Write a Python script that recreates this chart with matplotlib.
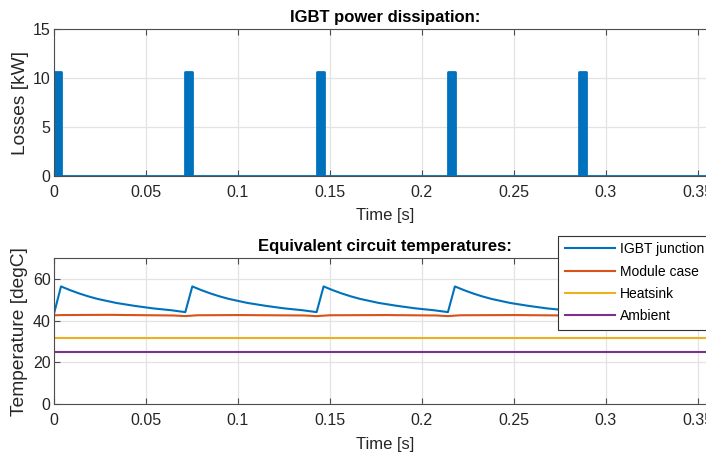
import numpy as np
import matplotlib.pyplot as plt

plt.rcParams['font.family'] = ['Liberation Sans', 'DejaVu Sans']

# pulse timing (s) and IGBT loss level (kW)
pulse_start = [0.0, 0.0714, 0.1428, 0.2142, 0.2856]
pulse_end = [0.0038, 0.0752, 0.1466, 0.2180, 0.2894]
loss_kw = 10.6
t_stop = 0.36

# junction temperature (s, degC)
tj_time = [0.0, 0.0038, 0.0088, 0.0138, 0.0188, 0.0238, 0.0338, 0.0438, 0.0538, 0.0638, 0.0714,
           0.0752, 0.0802, 0.0852, 0.0902, 0.0952, 0.1052, 0.1152, 0.1252, 0.1352, 0.1428,
           0.1466, 0.1516, 0.1566, 0.1616, 0.1666, 0.1766, 0.1866, 0.1966, 0.2066, 0.2142,
           0.2180, 0.2230, 0.2280, 0.2330, 0.2380, 0.2480, 0.2580, 0.2680, 0.2780, 0.2856,
           0.2894, 0.2944, 0.2994, 0.3044, 0.3094, 0.3194, 0.3294, 0.3394, 0.3494, 0.3600]
tj_vals = [43.4, 56.4, 54.6, 53.0, 51.6, 50.4, 48.5, 47.1, 45.9, 45.0, 44.1,
           56.4, 54.6, 53.0, 51.6, 50.4, 48.5, 47.1, 45.9, 45.0, 44.1,
           56.4, 54.6, 53.0, 51.6, 50.4, 48.5, 47.1, 45.9, 45.0, 44.1,
           56.4, 54.6, 53.0, 51.6, 50.4, 48.5, 47.1, 45.9, 45.0, 44.1,
           56.4, 54.6, 53.0, 51.6, 50.4, 48.5, 47.1, 45.9, 45.0, 44.1]

# module case temperature, small dip around each pulse
tc_time = [0.0, 0.0050, 0.0300, 0.0650, 0.0714, 0.0780, 0.1000, 0.1360, 0.1428, 0.1500,
           0.1800, 0.2080, 0.2142, 0.2210, 0.2500, 0.2790, 0.2856, 0.2930, 0.3600]
tc_vals = [42.6, 42.7, 42.8, 42.5, 42.2, 42.6, 42.7, 42.5, 42.2, 42.6,
           42.7, 42.5, 42.2, 42.6, 42.7, 42.5, 42.2, 42.6, 42.7]

t_heatsink = 31.9
t_ambient = 25.0

blue, orange, yellow, purple = '#0072BD', '#D95319', '#EDB120', '#7E2F8E'
grid_c = '#e3e3e3'
axis_c = '#4d4d4d'
text_c = '#262626'

fig = plt.figure(figsize=(7.06, 4.54), dpi=100)
ax1 = fig.add_axes([0.0765, 0.6123, 0.9377, 0.3238])
ax2 = fig.add_axes([0.0765, 0.1095, 0.9377, 0.3222])

# power step signal
p_t = [0.0]
p_v = [0.0]
for s, e in zip(pulse_start, pulse_end):
    p_t += [s, s, e, e]
    p_v += [0.0, loss_kw, loss_kw, 0.0]
p_t.append(t_stop)
p_v.append(0.0)
ax1.fill_between(p_t, p_v, 0, color=blue, lw=0)
ax1.plot(p_t, p_v, color=blue, lw=2)

ax2.plot(tj_time, tj_vals, color=blue, lw=1.5, label='IGBT junction')
ax2.plot(tc_time, tc_vals, color=orange, lw=1.5, label='Module case')
ax2.plot([0, t_stop], [t_heatsink, t_heatsink], color=yellow, lw=1.5, label='Heatsink')
ax2.plot([0, t_stop], [t_ambient, t_ambient], color=purple, lw=1.5, label='Ambient')

for ax, title, ylab in [(ax1, 'IGBT power dissipation:', 'Losses [kW]'),
                        (ax2, 'Equivalent circuit temperatures:', 'Temperature [degC]')]:
    ax.set_xlim(0, t_stop)
    ax.set_xticks([0, 0.05, 0.1, 0.15, 0.2, 0.25, 0.3, 0.35])
    ax.set_xticklabels(['0', '0.05', '0.1', '0.15', '0.2', '0.25', '0.3', '0.35'])
    ax.grid(True, color=grid_c, lw=0.9)
    ax.set_axisbelow(True)
    for sp in ax.spines.values():
        sp.set_color(axis_c)
        sp.set_linewidth(0.8)
    ax.tick_params(direction='in', top=True, right=True, length=4, width=0.8,
                   color=axis_c, labelcolor=text_c, labelsize=11.5)
    ax.tick_params(axis='x', pad=6.5)
    ax.tick_params(axis='y', pad=2.5)
    ax.set_title(title, fontsize=12, fontweight='bold', pad=5)
    ax.set_xlabel('Time [s]', fontsize=12, color=text_c, labelpad=6)
    ax.set_ylabel(ylab, fontsize=13.8, color=text_c, labelpad=3)

ax1.set_ylim(0, 15)
ax1.set_yticks([0, 5, 10, 15])
ax2.set_ylim(0, 70)
ax2.set_yticks([0, 20, 40, 60])

leg = ax2.legend(loc='upper left', bbox_to_anchor=(0.791, 0.48), bbox_transform=fig.transFigure,
                 fontsize=10, frameon=True, fancybox=False, handlelength=3.6,
                 labelspacing=0.6, borderpad=0.45, handletextpad=0.4, borderaxespad=0)
leg.get_frame().set_edgecolor('#333333')
leg.get_frame().set_linewidth(0.8)
leg.get_frame().set_alpha(1)

plt.savefig('out.png', dpi=100)
